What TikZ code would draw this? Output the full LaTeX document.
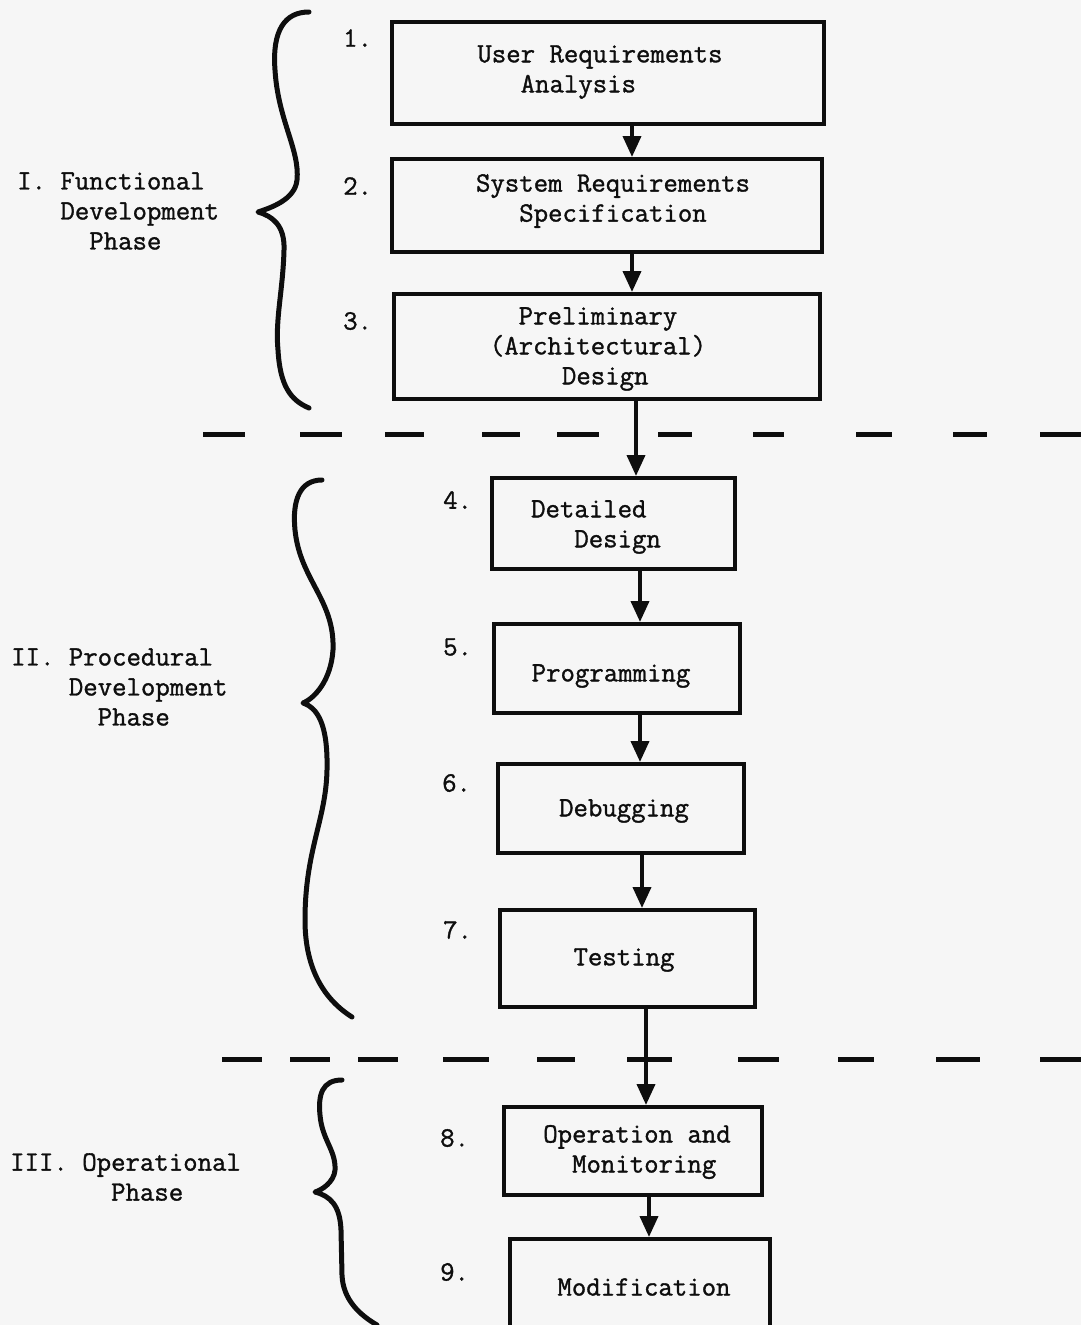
\documentclass[tikz,border=0pt]{standalone}
\usepackage{fontspec}
\newfontfamily\tw{Latin Modern Mono}[FakeBold=1.2]
\usetikzlibrary{arrows.meta}
\definecolor{bg}{RGB}{246,246,246}
\definecolor{ink}{RGB}{14,14,14}
\begin{document}
\begin{tikzpicture}[x=1pt,y=-1pt,
  box/.style={draw=ink, line width=3.8pt, inner sep=0pt, anchor=north west},
  txt/.style={font=\fontsize{28}{30}\selectfont\tw\frenchspacing, align=left, inner sep=0pt, text=ink},
  num/.style={txt, anchor=west},
  phase/.style={txt, anchor=west},
  arr/.style={draw=ink, line width=3.8pt, -{Triangle[width=18pt,length=21pt]}},
  dashseg/.style={draw=ink, line width=5pt},
  bracepath/.style={draw=ink, line width=5pt, line cap=round, line join=round}
]
\useasboundingbox (0,0) rectangle (1081,1325);
\fill[bg] (0,0) rectangle (1081,1325);
\clip (0,0) rectangle (1081,1325);

% boxes
\node[box, minimum width=432pt, minimum height=102pt] (b1) at (390,20) {};
\node[box, minimum width=430pt, minimum height=93pt]  (b2) at (390,157) {};
\node[box, minimum width=426pt, minimum height=105pt] (b3) at (392,292) {};
\node[box, minimum width=243pt, minimum height=91pt]  (b4) at (490,476) {};
\node[box, minimum width=246pt, minimum height=89pt]  (b5) at (492,622) {};
\node[box, minimum width=246pt, minimum height=89pt]  (b6) at (496,762) {};
\node[box, minimum width=255pt, minimum height=97pt]  (b7) at (498,908) {};
\node[box, minimum width=258pt, minimum height=88pt]  (b8) at (502,1105) {};
\node[box, minimum width=260pt, minimum height=110pt] (b9) at (508,1237) {};

% box texts
\node[txt] (t1) at (600,72) {User Requirements\\\phantom{xxx}Analysis};
\node[txt] (t2) at (613,201) {System Requirements\\\phantom{xxx}Specification};
\node[txt] (t3) at (598,349) {\phantom{xx}Preliminary\\(Architectural)\\\phantom{xxxxx}Design};
\node[txt] (t4) at (596,527) {Detailed\\\phantom{xxx}Design};
\node[txt] (t5) at (611,676) {Programming};
\node[txt] (t6) at (624,811) {Debugging};
\node[txt] (t7) at (624,960) {Testing};
\node[txt] (t8) at (637,1152) {Operation and\\\phantom{xx}Monitoring};
\node[txt] (t9) at (644,1287) {Modification};

% numbers
\node[num] (n1) at (343,38) {1.};
\node[num] (n2) at (343,186) {2.};
\node[num] (n3) at (343,321) {3.};
\node[num] (n4) at (443,500) {4.};
\node[num] (n5) at (443,647) {5.};
\node[num] (n6) at (442,783) {6.};
\node[num] (n7) at (443,930) {7.};
\node[num] (n8) at (440,1138) {8.};
\node[num] (n9) at (440,1272) {9.};

% phase labels
\node[phase] (p1) at (17,211) {I. Functional\\\phantom{xxx}Development\\\phantom{xxxxx}Phase};
\node[phase] (p2) at (11,687) {II. Procedural\\\phantom{xxxx}Development\\\phantom{xxxxxx}Phase};
\node[phase] (p3) at (10,1177) {III. Operational\\\phantom{xxxxxxx}Phase};

% arrow columns
\coordinate (c12) at (632,0);
\coordinate (c23) at (632,0);
\coordinate (c34) at (636,0);
\coordinate (c45) at (640,0);
\coordinate (c56) at (640,0);
\coordinate (c67) at (642,0);
\coordinate (c78) at (646,0);
\coordinate (c89) at (649,0);

\draw[arr] (b1.south -| c12) -- (b2.north -| c12);
\draw[arr] (b2.south -| c23) -- (b3.north -| c23);
\draw[arr] (b3.south -| c34) -- (b4.north -| c34);
\draw[arr] (b4.south -| c45) -- (b5.north -| c45);
\draw[arr] (b5.south -| c56) -- (b6.north -| c56);
\draw[arr] (b6.south -| c67) -- (b7.north -| c67);
\draw[arr] (b7.south -| c78) -- (b8.north -| c78);
\draw[arr] (b8.south -| c89) -- (b9.north -| c89);

% dashed phase separators
\foreach \a/\b in {203/245, 300/342, 385/424, 482/520, 557/599, 658/692, 753/784, 856/892, 953/987, 1040/1085}
  \draw[dashseg] (\a,434) -- (\b,434);
\foreach \a/\b in {222/262, 290/330, 358/398, 443/489, 537/575, 627/672, 738/779, 838/874, 936/980, 1040/1085}
  \draw[dashseg] (\a,1059) -- (\b,1059);

% braces
\draw[bracepath] (309,12) .. controls (285,12) and (272,30) .. (275,70)
  .. controls (278,120) and (300,150) .. (297,180)
  .. controls (295,200) and (270,208) .. (258,212)
  .. controls (272,216) and (285,225) .. (284,250)
  .. controls (283,290) and (275,320) .. (278,350)
  .. controls (280,385) and (290,400) .. (309,408);
\draw[bracepath] (322,480) .. controls (300,480) and (292,500) .. (295,530)
  .. controls (300,580) and (335,600) .. (333,650)
  .. controls (331,680) and (315,698) .. (303,703)
  .. controls (318,708) and (328,725) .. (327,770)
  .. controls (326,820) and (305,850) .. (305,920)
  .. controls (305,970) and (325,1000) .. (352,1017);
\draw[bracepath] (342,1080) .. controls (322,1080) and (318,1095) .. (320,1115)
  .. controls (322,1140) and (336,1150) .. (335,1170)
  .. controls (334,1182) and (322,1190) .. (315,1192)
  .. controls (330,1196) and (340,1205) .. (341,1230)
  -- (342,1275)
  .. controls (343,1300) and (360,1315) .. (377,1325);
\end{tikzpicture}
\end{document}
